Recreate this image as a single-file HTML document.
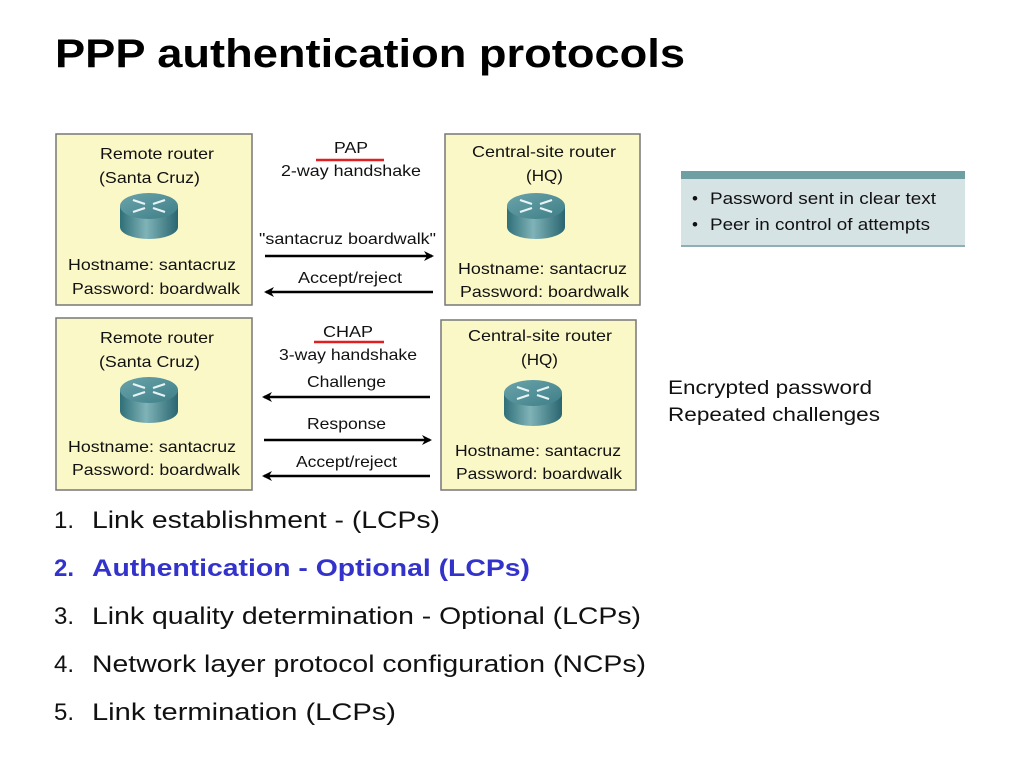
<!DOCTYPE html>
<html><head><meta charset="utf-8"><style>
html,body{margin:0;padding:0;background:#fff;}
svg{display:block;}
text{font-family:"Liberation Sans",Arial,sans-serif;}
</style></head><body>
<svg width="1024" height="768" viewBox="0 0 1024 768" xmlns="http://www.w3.org/2000/svg">
<defs>
<linearGradient id="rb" x1="0" x2="1" y1="0" y2="0">
<stop offset="0" stop-color="#2f6f78"/><stop offset="0.45" stop-color="#7fb3b8"/><stop offset="1" stop-color="#2a6570"/>
</linearGradient>
<linearGradient id="rt" x1="0" x2="1" y1="0" y2="1">
<stop offset="0" stop-color="#6aa3aa"/><stop offset="1" stop-color="#3f7f88"/>
</linearGradient>
<symbol id="router" viewBox="0 0 60 50">
<path d="M1 16 L1 37 A29 12 0 0 0 59 37 L59 16 Z" fill="url(#rb)"/>
<ellipse cx="30" cy="16" rx="29" ry="13" fill="url(#rt)"/>
<g stroke="#e8f4f4" stroke-width="2.2" fill="none">
<path d="M14 10 L26 14 M34 18 L46 22 M46 10 L34 14 M26 18 L14 22"/>
</g>
</symbol>
<marker id="ah" markerWidth="10" markerHeight="10" refX="8" refY="5" orient="auto" markerUnits="userSpaceOnUse">
<path d="M0 0 L10 5 L0 10 L3 5 Z" fill="#000"/>
</marker>
</defs>

<text x="55" y="67" font-size="40" font-weight="bold" textLength="630" lengthAdjust="spacingAndGlyphs">PPP authentication protocols</text>

<g fill="#fbf8c8" stroke="#777" stroke-width="1.5">
<rect x="56" y="134" width="196" height="171"/>
<rect x="445" y="134" width="195" height="171"/>
<rect x="56" y="318" width="196" height="172"/>
<rect x="441" y="320" width="195" height="170"/>
</g>

<g font-size="16" fill="#111" lengthAdjust="spacingAndGlyphs">
<text x="100" y="159" textLength="114" lengthAdjust="spacingAndGlyphs">Remote router</text>
<text x="99" y="183" textLength="101" lengthAdjust="spacingAndGlyphs">(Santa Cruz)</text>
<text x="68" y="270" textLength="168" lengthAdjust="spacingAndGlyphs">Hostname: santacruz</text>
<text x="72" y="294" textLength="168" lengthAdjust="spacingAndGlyphs">Password: boardwalk</text>
<text x="472" y="157" textLength="144" lengthAdjust="spacingAndGlyphs">Central-site router</text>
<text x="526" y="181" textLength="37" lengthAdjust="spacingAndGlyphs">(HQ)</text>
<text x="458" y="274" textLength="169" lengthAdjust="spacingAndGlyphs">Hostname: santacruz</text>
<text x="460" y="297" textLength="169" lengthAdjust="spacingAndGlyphs">Password: boardwalk</text>

<text x="100" y="343" textLength="114" lengthAdjust="spacingAndGlyphs">Remote router</text>
<text x="99" y="367" textLength="101" lengthAdjust="spacingAndGlyphs">(Santa Cruz)</text>
<text x="68" y="452" textLength="168" lengthAdjust="spacingAndGlyphs">Hostname: santacruz</text>
<text x="72" y="475" textLength="168" lengthAdjust="spacingAndGlyphs">Password: boardwalk</text>
<text x="468" y="341" textLength="144" lengthAdjust="spacingAndGlyphs">Central-site router</text>
<text x="521" y="365" textLength="37" lengthAdjust="spacingAndGlyphs">(HQ)</text>
<text x="455" y="456" textLength="166" lengthAdjust="spacingAndGlyphs">Hostname: santacruz</text>
<text x="456" y="479" textLength="166" lengthAdjust="spacingAndGlyphs">Password: boardwalk</text>

<text x="334" y="153" textLength="34" lengthAdjust="spacingAndGlyphs">PAP</text>
<text x="281" y="176" textLength="140" lengthAdjust="spacingAndGlyphs">2-way handshake</text>
<text x="259" y="244" textLength="177" lengthAdjust="spacingAndGlyphs">"santacruz boardwalk"</text>
<text x="298" y="283" textLength="104" lengthAdjust="spacingAndGlyphs">Accept/reject</text>
<text x="323" y="337" textLength="50" lengthAdjust="spacingAndGlyphs">CHAP</text>
<text x="279" y="360" textLength="138" lengthAdjust="spacingAndGlyphs">3-way handshake</text>
<text x="307" y="387" textLength="79" lengthAdjust="spacingAndGlyphs">Challenge</text>
<text x="307" y="429" textLength="79" lengthAdjust="spacingAndGlyphs">Response</text>
<text x="296" y="467" textLength="101" lengthAdjust="spacingAndGlyphs">Accept/reject</text>
</g>

<line x1="316" y1="160" x2="384" y2="160" stroke="#e02020" stroke-width="2.5"/>
<line x1="314" y1="342" x2="384" y2="342" stroke="#e02020" stroke-width="2.5"/>

<use href="#router" x="119" y="190" width="60" height="50"/>
<use href="#router" x="506" y="190" width="60" height="50"/>
<use href="#router" x="119" y="374" width="60" height="50"/>
<use href="#router" x="503" y="377" width="60" height="50"/>

<g stroke="#000" stroke-width="2.5" marker-end="url(#ah)">
<line x1="265" y1="256" x2="432" y2="256"/>
<line x1="433" y1="292" x2="266" y2="292"/>
<line x1="430" y1="397" x2="264" y2="397"/>
<line x1="264" y1="440" x2="430" y2="440"/>
<line x1="430" y1="476" x2="264" y2="476"/>
</g>

<rect x="681" y="171" width="284" height="76" fill="#d6e3e5"/>
<rect x="681" y="171" width="284" height="8" fill="#6f9ea3"/>
<rect x="681" y="245" width="284" height="2" fill="#8fb0b3"/>
<g font-size="17" fill="#111">
<text x="692" y="204">•</text><text x="710" y="204" textLength="226" lengthAdjust="spacingAndGlyphs">Password sent in clear text</text>
<text x="692" y="230">•</text><text x="710" y="230" textLength="220" lengthAdjust="spacingAndGlyphs">Peer in control of attempts</text>
</g>
<g font-size="19" fill="#111">
<text x="668" y="394" textLength="204" lengthAdjust="spacingAndGlyphs">Encrypted password</text>
<text x="668" y="421" textLength="212" lengthAdjust="spacingAndGlyphs">Repeated challenges</text>
</g>

<g font-size="24" fill="#111">
<text x="54" y="528">1.</text><text x="92" y="528" textLength="348" lengthAdjust="spacingAndGlyphs">Link establishment - (LCPs)</text>
<text x="54" y="576" fill="#3333cc" font-weight="bold">2.</text><text x="92" y="576" fill="#3333cc" font-weight="bold" textLength="438" lengthAdjust="spacingAndGlyphs">Authentication - Optional (LCPs)</text>
<text x="54" y="624">3.</text><text x="92" y="624" textLength="549" lengthAdjust="spacingAndGlyphs">Link quality determination - Optional (LCPs)</text>
<text x="54" y="672">4.</text><text x="92" y="672" textLength="554" lengthAdjust="spacingAndGlyphs">Network layer protocol configuration (NCPs)</text>
<text x="54" y="720">5.</text><text x="92" y="720" textLength="304" lengthAdjust="spacingAndGlyphs">Link termination  (LCPs)</text>
</g>
</svg>
</body></html>
